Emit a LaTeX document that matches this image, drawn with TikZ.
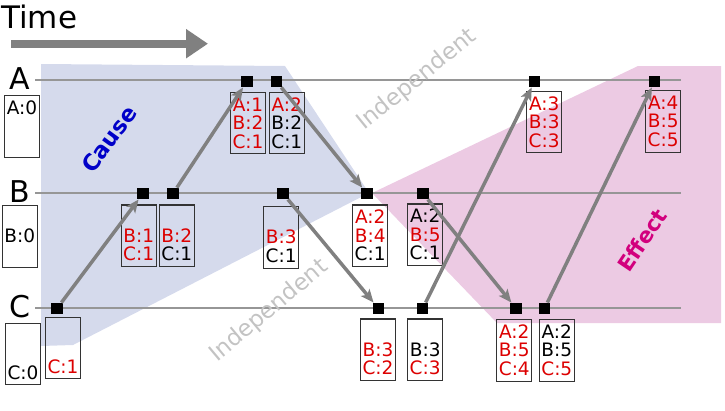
\documentclass[tikz,border=0pt]{standalone}
\usepackage{fontspec}
\setmainfont{DejaVu Sans}
\usetikzlibrary{arrows.meta}
\definecolor{causebg}{RGB}{213,218,236}
\definecolor{effectbg}{RGB}{236,202,227}
\definecolor{causefg}{RGB}{0,0,200}
\definecolor{effectfg}{RGB}{210,0,125}
\definecolor{indepfg}{RGB}{195,195,195}
\definecolor{evred}{RGB}{220,0,0}
\definecolor{linegray}{RGB}{150,150,150}
\definecolor{arrgray}{RGB}{128,128,128}
\newcommand\Rd[1]{\textcolor{evred}{#1}}
\newcommand\evtext[3]{\rule{0pt}{18.7pt}#1\\#2\\#3\rule[-5.8pt]{0pt}{5.8pt}}
\begin{document}
\begin{tikzpicture}[x=1pt,y=-1pt,
  evbox/.style={draw=black!80, line width=1.2pt, minimum width=35pt, minimum height=61.5pt,
    inner sep=0pt, anchor=north, align=center, font=\fontsize{18.5}{18.5}\selectfont},
  evsq/.style={fill=black, minimum size=11.5pt, inner sep=0pt},
  msg/.style={draw=arrgray, line width=3.5pt, -{Stealth[length=13pt,width=11pt,inset=3pt]}},
  timeline/.style={draw=linegray, line width=1.5pt},
  proc/.style={font=\fontsize{30}{30}\selectfont},
  region/.style={font=\bfseries\fontsize{22.5}{22.5}\selectfont},
  indep/.style={text=indepfg, font=\fontsize{23}{23}\selectfont}]
\useasboundingbox (0,0) rectangle (725,410);

% shaded regions
\fill[causebg] (41,64) -- (285,66) -- (369,193) -- (73,345) -- (41,346) -- cycle;
\fill[effectbg] (638,66) -- (721,66) -- (721,323) -- (497,323) -- (372,193) -- cycle;

% time arrow
\node[anchor=base west, inner sep=0pt, font=\fontsize{31}{31}\selectfont] (time) at (1,28) {Time};
\coordinate (ts) at (11,43.7);
\coordinate (te) at (208,43.7);
\draw[draw=arrgray, line width=8pt, -{Triangle[length=22pt,width=28pt]}] (ts) -- (te);

% timelines
\coordinate (lA0) at (35,80);  \coordinate (lA1) at (681,80);
\coordinate (lB0) at (35,193); \coordinate (lB1) at (681,193);
\coordinate (lC0) at (35,308); \coordinate (lC1) at (681,308);
\draw[timeline] (lA0) -- (lA1);
\draw[timeline] (lB0) -- (lB1);
\draw[timeline] (lC0) -- (lC1);

\node[proc] (pA) at (20,79) {A};
\node[proc] (pB) at (20,192) {B};
\node[proc] (pC) at (20,307) {C};

% region labels
\node[region, text=causefg, rotate=54] (cause) at (109,139) {Cause};
\node[region, text=effectfg, rotate=56, font=\bfseries\fontsize{21.5}{21.5}\selectfont] (effect) at (642,240) {Effect};
\node[indep, rotate=39] (ind1) at (417,80) {Independent};
\node[indep, rotate=40] (ind2) at (269,311) {Independent};

% boxes
\node[evbox] (bA0) at (22,95) {\evtext{A:0}{}{}};
\node[evbox] (bB0) at (19.7,205) {\evtext{}{B:0}{}};
\node[evbox] (bC0) at (23,322.7) {\evtext{}{}{C:0}};

\node[evbox] (bA1) at (248,91.7) {\evtext{\Rd{A:1}}{\Rd{B:2}}{\Rd{C:1}}};
\node[evbox] (bA2) at (286.8,91.7) {\evtext{\Rd{A:2}}{B:2}{C:1}};
\node[evbox] (bA3) at (544.2,90.7) {\evtext{\Rd{A:3}}{\Rd{B:3}}{\Rd{C:3}}};
\node[evbox] (bA4) at (663.2,90) {\evtext{\Rd{A:4}}{\Rd{B:5}}{\Rd{C:5}}};

\node[evbox] (bB1) at (138.7,204.3) {\evtext{}{\Rd{B:1}}{\Rd{C:1}}};
\node[evbox] (bB2) at (176.8,204.3) {\evtext{}{\Rd{B:2}}{C:1}};
\node[evbox] (bB3) at (281.2,206) {\evtext{}{\Rd{B:3}}{C:1}};
\node[evbox] (bB4) at (370.2,204.3) {\evtext{\Rd{A:2}}{\Rd{B:4}}{C:1}};
\node[evbox] (bB5) at (425.2,203.3) {\evtext{A:2}{\Rd{B:5}}{C:1}};

\node[evbox] (bC1) at (63,316.7) {\evtext{}{}{\Rd{C:1}}};
\node[evbox] (bC2) at (378,318.3) {\evtext{}{\Rd{B:3}}{\Rd{C:2}}};
\node[evbox] (bC3) at (425.2,318.3) {\evtext{}{B:3}{\Rd{C:3}}};
\node[evbox] (bC4) at (514.3,319) {\evtext{\Rd{A:2}}{\Rd{B:5}}{\Rd{C:4}}};
\node[evbox] (bC5) at (556.8,319) {\evtext{A:2}{B:5}{\Rd{C:5}}};

% event squares
\node[evsq] (sA1) at (247,81.5) {};
\node[evsq] (sA2) at (276.5,81.5) {};
\node[evsq] (sA3) at (534.7,81.5) {};
\node[evsq] (sA4) at (654.7,81.5) {};
\node[evsq] (sB1) at (143,193.5) {};
\node[evsq] (sB2) at (173,193.5) {};
\node[evsq] (sB3) at (283,193.5) {};
\node[evsq] (sB4) at (367,193.5) {};
\node[evsq] (sB5) at (423,193.5) {};
\node[evsq] (sC1) at (57,308.5) {};
\node[evsq] (sC2) at (378.5,308.5) {};
\node[evsq] (sC3) at (422.7,308.5) {};
\node[evsq] (sC4) at (516.2,308.5) {};
\node[evsq] (sC5) at (544.5,308.5) {};

% messages
\draw[msg] (sC1) -- (sB1);
\draw[msg] (sB2) -- (sA1);
\draw[msg] (sA2) -- (sB4);
\draw[msg] (sB3) -- (sC2);
\draw[msg] (sC3) -- (sA3);
\draw[msg] (sB5) -- (sC4);
\draw[msg] (sC5) -- (sA4);
\end{tikzpicture}
\end{document}
